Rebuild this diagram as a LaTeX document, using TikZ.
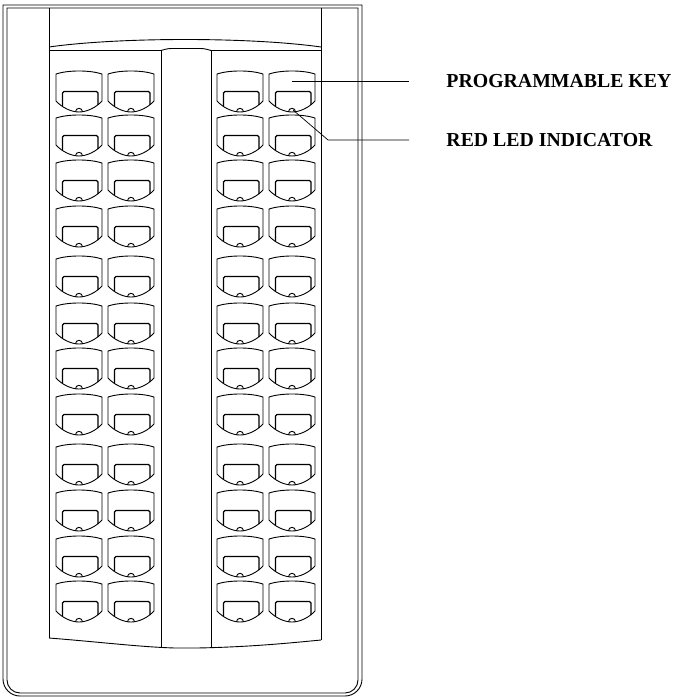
\documentclass[tikz,border=0pt]{standalone}
\usepackage{fontspec}
\setmainfont{Liberation Serif}
\begin{document}
\begin{tikzpicture}[x=1pt,y=-1pt,line width=0.9pt,
  lbl/.style={anchor=west,inner sep=0pt,font=\bfseries\fontsize{19.8}{20}\selectfont},
  padkey/.pic={
    \draw (0,4) .. controls (12,0) and (34,0) .. (46,4) -- (46,31)
      .. controls (40,37.5) and (31,42) .. (23,42)
      .. controls (15,42) and (6,37.5) .. (0,31) -- cycle;
    \draw[line width=1.1pt,rounded corners=1.5] (6.5,36.5) -- (6.5,21.5) -- (42,21.5) -- (42,35);
    \draw (19.5,41.8) arc (180:360:3.5);
  }]
\useasboundingbox (0,0) rectangle (677,698);
% outer body
\draw (3,5) -- (362,5) -- (362,679) arc (0:90:17) -- (20,696) arc (90:180:17) -- cycle;
\draw (7,8) -- (358,8) -- (358,680) arc (0:90:13) -- (20,693) arc (90:180:13) -- cycle;
% panel
\draw (49,8) -- (49,638);
\draw (321,8) -- (321,640);
\draw (49,47) .. controls (120,37) and (250,37) .. (321,47);
\draw (49,50.5) -- (161,50.5);
\draw (211,50.5) -- (321,50.5);
\draw (161,50.5) .. controls (168,48.5) .. (175,48.5) -- (197,48.5) .. controls (204,48.5) .. (211,50.5);
\draw (161,50.5) -- (161,647);
\draw (211,50.5) -- (211,648);
\draw (49,638) .. controls (100,642) and (140,647) .. (175,648) -- (197,648)
  .. controls (250,647) and (290,643) .. (321,640);
% keys
\foreach \r in {70,114,159,205,255,302,347,393,443,489,535,580}
  \foreach \c in {56,108,217,269}
    \pic at (\c,\r) {padkey};
% callouts
\node[lbl] (pk) at (446,81) {PROGRAMMABLE KEY};
\node[lbl] (led) at (446,140) {RED LED INDICATOR};
\coordinate (pkstart) at (292,81);
\coordinate (pkend) at (409,81);
\coordinate (ledstart) at (293,110);
\coordinate (ledbend) at (328,140);
\coordinate (ledend) at (409,140);
\draw[line width=0.7pt] (pkstart) -- (pkend);
\draw[line width=0.7pt] (ledstart) -- (ledbend) -- (ledend);
\end{tikzpicture}
\end{document}
